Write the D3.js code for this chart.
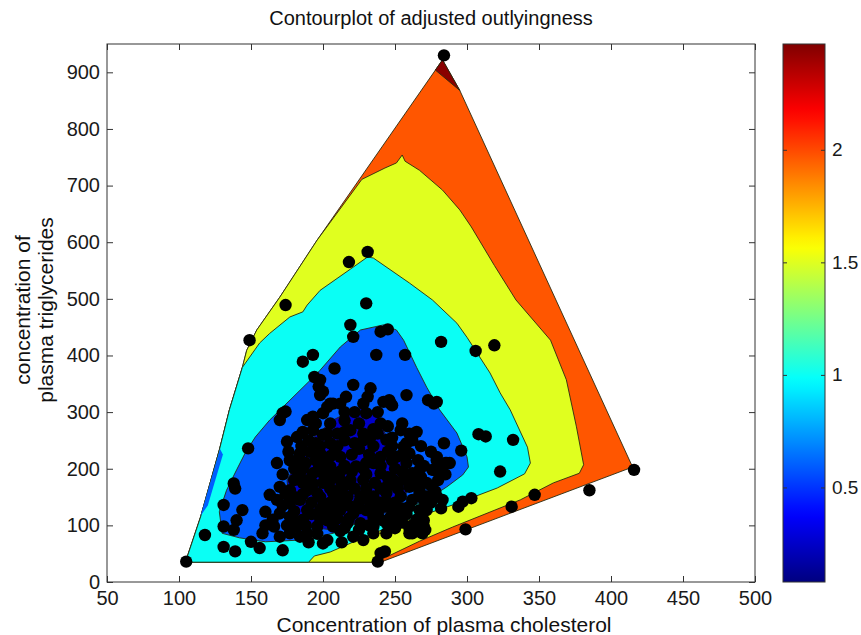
<!DOCTYPE html>
<html><head><meta charset="utf-8">
<script src="https://cdn.jsdelivr.net/npm/d3@7"></script>
<style>body{margin:0;background:#fff}svg{font-family:"Liberation Sans",Arial,sans-serif}</style>
</head><body><svg id="c" width="861" height="635"></svg>
<script>
// ---- data ----
const xTicks = [50,100,150,200,250,300,350,400,450,500];
const yTicks = [0,100,200,300,400,500,600,700,800,900];
const cbTicks = [0.5,1,1.5,2];
const cbRange = [0.08,2.47];
// filled contour regions (outer to inner) and their level values
const hullPoly = [[105,35],[240,35],[415,203],[295,868],[283,922],[196,604],[170,503],[154,445],[147,409],[144,379],[135,304],[128,233],[115,115],[105,39]];
const tipPoly = [[278,904],[283,922],[295,868]];
const yellowPoly = [[236,35],[238,39],[244,44],[267,72],[290,97],[337,145],[360,175],[378,192],[381,207],[376,274],[369,357],[358,427],[334,498],[319,559],[303,627],[295,657],[283,692],[267,727],[257,743],[255,754],[251,740],[243,731],[227,711],[196,604],[170,503],[154,445],[147,409],[144,379],[135,304],[128,233],[115,115],[105,39],[105,35]];
const cyanPoly = [[105,35],[190,35],[194,46],[205,53],[235,86],[253,104],[267,116],[290,136],[321,166],[340,191],[344,210],[342,238],[330,304],[323,334],[316,369],[300,432],[293,457],[276,498],[260,528],[235,572],[231,574],[221,556],[198,515],[189,489],[186,477],[177,468],[163,439],[156,422],[144,379],[135,304],[128,233],[115,115],[105,39]];
const bluePoly = [[130,86],[128,124],[133,162],[140,198],[146,228],[153,256],[163,286],[175,316],[191,356],[198,374],[212,415],[226,445],[242,454],[251,445],[256,427],[265,379],[272,344],[281,304],[293,263],[300,221],[301,203],[297,189],[286,168],[272,145],[253,125],[237,113],[221,101],[207,86],[184,74],[160,71],[142,78]];
const sliverPoly = [[128.5,235],[130.5,225],[120,135],[115,117]];
const darkPoly = [[175,180],[189,245],[207,286],[221,304],[230,309],[237,298],[242,268],[249,233],[258,203],[260,168],[253,132],[230,109],[207,92],[189,97],[177,132]];
const regions = [hullPoly, tipPoly, yellowPoly, cyanPoly, bluePoly, sliverPoly, darkPoly];
const regionLevels = [1.97, 2.45, 1.5, 1.0, 0.6, 0.6, 0.25];
// observations (cholesterol, triglycerides)
const obsX = [];
const obsY = [];
const points = [
[284,930],[416,198],[385,162],[347,154],[331,133],[299,93],[319,418],[306,408],[282,424],[308,261],[313,257],[332,251],[323,195],[294,133],[297,142],[303,148],[273,321],[279,318],[284,245],[296,232],[279,221],[285,210],[288,210],[276,198],[281,201],[267,156],[270,145],[271,127],[270,109],[271,92],[269,86],[240,51],[243,54],[238,36],[260,95],[267,89],[270,98],[262,86],
[149,427],[174,489],[231,583],[218,565],[230,492],[105,36],
[118,83],[131,62],[139,54],[131,98],[138,92],[140,109],[144,127],[131,136],[139,165],[138,174],[148,236],[150,71],[156,60],[172,56],[158,86],[163,154],[160,124],[168,210],[175,248],[170,286],[174,301],[182,256],[189,286],[193,292],[200,298],[186,265],[193,268],[177,215],[184,227],[191,230],[184,192],[193,192],[170,168],[177,162],[168,145],[177,139],[170,121],[177,115],[184,145],[189,127],[196,157],[198,127],[166,98],[170,80],[177,86],[182,98],[189,86],[196,98],[200,68],[203,109],[193,174],[200,192],[198,227],[189,162],
[203,309],[207,315],[203,262],[210,262],[219,268],[230,298],[233,256],[244,251],[254,268],[260,262],[265,265],[242,318],[247,315],[277,315],[256,239],[251,221],[240,221],[260,227],[258,210],[267,198],[279,215],[277,198],[286,210],[212,221],[205,204],[223,204],[219,180],[228,180],[240,192],[249,180],[256,192],[260,168],[267,162],[272,151],[279,151],[207,157],[217,151],[226,151],[235,151],[244,157],[254,151],[203,127],[212,127],[221,121],[230,127],[242,133],[251,121],[260,133],[267,127],[272,127],[207,98],[217,104],[226,104],[235,98],[244,104],[254,115],[203,74],[221,80],[228,74],[235,86],[244,86],[260,86],
[219,454],[221,433],[240,442],[245,446],[237,401],[257,401],[208,377],[198,357],[221,348],[233,342],[231,327],[216,327],[212,315],[246,321],[258,330],[200,336],[205,315],
[186,389],[193,401],[194,362],[197,345],[198,330],[248,312],[172,298],
[212,180],[230,165],[245,140],[215,140],[235,115],[250,200],[225,235],[235,240],[210,240],[245,230],[215,285],[225,280],[240,280],[188,210],[195,245],[180,180],
[205,245],[215,250],[228,250],[238,262],[248,240],[232,225],[220,225],[208,230],[230,210],[240,205],[248,215],[215,205],[200,210],[208,190],[230,190],[236,175],[245,170],[252,165],[222,165],[212,165],[200,175],[186,175],[180,150],[192,140],[205,140],[225,140],[235,135],[250,140],[262,145],[262,175],[268,185],[258,180],[198,112],[210,112],[218,112],[238,120],[247,115],[186,110],[180,125],[196,85],[212,90],[250,95],[255,105],[184,80],[190,70],[213,70],[165,110],[160,100],[175,100],[188,100],[200,260],[190,250],[185,240],[222,300],[215,300],[238,300],[228,315],[255,280],[262,250],[268,240],[275,230],[266,215],[272,175],[280,180],[285,190],[275,140],[282,130],[255,225],[245,275],[205,280],[195,280],
[172,190],[180,200],[176,230],[182,215],[195,215],[186,200],[172,135],[180,108],[192,120],[186,155],[198,150],[205,165],[210,150],[190,180],[174,155],[205,120],[215,95],[225,92],[232,100],[240,110],[250,110],[258,120],[265,110],[262,100],[255,130],[248,128],[240,140],[232,145],[225,130],[218,135],[210,135],[200,135],[220,195],[228,200],[235,210],[245,185],[252,175],[262,192],[270,205],[275,170],[278,160],[283,145],[265,172],[240,165],[230,155],[215,170],[205,180],[197,200],[212,195],[255,195],[248,255],[258,245],[235,270],[215,265],[228,262],[222,245],[205,222],[198,240]
];
points.forEach(p => { obsX.push(p[0]); obsY.push(p[1]); });

// ---- drawing ----
const svg = d3.select("#c");
const FONT = "'Liberation Sans',Arial,sans-serif";
const m = {l:107, r:755, t:44, b:582};
const x = d3.scaleLinear().domain([50,500]).range([m.l, m.r]);
const y = d3.scaleLinear().domain([0,950]).range([m.b, m.t]);
const jet = d3.scaleLinear()
  .domain([0,0.125,0.375,0.625,0.875,1].map(t => cbRange[0] + t*(cbRange[1]-cbRange[0])))
  .range(["#000080","#0000ff","#00ffff","#ffff00","#ff0000","#800000"])
  .clamp(true);

svg.append("defs").append("clipPath").attr("id","pc")
  .append("rect").attr("x",m.l).attr("y",m.t).attr("width",m.r-m.l).attr("height",m.b-m.t);

const line = d3.line().x(d => x(d[0])).y(d => y(d[1])).curve(d3.curveLinearClosed);
const g = svg.append("g").attr("clip-path","url(#pc)");
regions.forEach((poly,i) => {
  g.append("path").attr("d", line(poly))
    .attr("fill", jet(regionLevels[i]))
    .attr("stroke", i===5 ? "none" : "#2a2a10").attr("stroke-width", 0.9)
    .attr("stroke-linejoin","round");
});
g.selectAll("circle.pt").data(obsX.map((v,i)=>[v,obsY[i]])).enter().append("circle")
  .attr("class","pt").attr("cx", d => x(d[0])).attr("cy", d => y(d[1])).attr("r", 6.2).attr("fill","#000");

// axes box
const axCol = "#333";
svg.append("rect").attr("x",m.l).attr("y",m.t).attr("width",m.r-m.l).attr("height",m.b-m.t)
  .attr("fill","none").attr("stroke",axCol).attr("stroke-width",1);
const axB = svg.append("g").attr("transform",`translate(0,${m.b})`)
  .call(d3.axisBottom(x).tickValues(xTicks).tickSize(-6).tickPadding(9).tickFormat(d3.format("d")));
const axT = svg.append("g").attr("transform",`translate(0,${m.t})`)
  .call(d3.axisTop(x).tickValues(xTicks).tickSize(-6).tickFormat(""));
const axL = svg.append("g").attr("transform",`translate(${m.l},0)`)
  .call(d3.axisLeft(y).tickValues(yTicks).tickSize(-6).tickPadding(7).tickFormat(d3.format("d")));
const axR = svg.append("g").attr("transform",`translate(${m.r},0)`)
  .call(d3.axisRight(y).tickValues(yTicks).tickSize(-6).tickFormat(""));
[axB,axT,axL,axR].forEach(a => {
  a.select(".domain").remove();
  a.selectAll("line").attr("stroke",axCol);
  a.selectAll("text").attr("fill","#1a1a1a").style("font-size","20px").style("font-family",FONT);
});
axB.selectAll("text").attr("dy","0.71em");

// titles
svg.append("text").attr("x",(m.l+m.r)/2).attr("y",25).attr("text-anchor","middle")
  .style("font-size","20px").attr("fill","#111").text("Contourplot of adjusted outlyingness");
svg.append("text").attr("x",444).attr("y",632).attr("text-anchor","middle")
  .style("font-size","21px").attr("fill","#111").text("Concentration of plasma cholesterol");
const yl = svg.append("text").attr("transform","translate(34,310) rotate(-90)").attr("text-anchor","middle")
  .style("font-size","21px").attr("fill","#111");
yl.append("tspan").attr("x",0).attr("dy","-0.2em").text("concentration of");
yl.append("tspan").attr("x",0).attr("dy","1.1em").text("plasma triglycerides");

// colorbar
const cb = {l:783, r:825};
const cy = d3.scaleLinear().domain(cbRange).range([m.b, m.t]);
const grad = svg.select("defs").append("linearGradient").attr("id","jetg")
  .attr("x1",0).attr("y1",1).attr("x2",0).attr("y2",0);
d3.range(0,1.0001,0.02).forEach(t => {
  grad.append("stop").attr("offset",t).attr("stop-color", jet(cbRange[0]+t*(cbRange[1]-cbRange[0])));
});
svg.append("rect").attr("x",cb.l).attr("y",m.t).attr("width",cb.r-cb.l).attr("height",m.b-m.t)
  .attr("fill","url(#jetg)").attr("stroke",axCol).attr("stroke-width",1);
const cbR = svg.append("g").attr("transform",`translate(${cb.r},0)`)
  .call(d3.axisRight(cy).tickValues(cbTicks).tickSize(-4).tickPadding(7).tickFormat(d3.format("")));
const cbL = svg.append("g").attr("transform",`translate(${cb.l},0)`)
  .call(d3.axisLeft(cy).tickValues(cbTicks).tickSize(-4).tickFormat(""));
[cbR,cbL].forEach(a => {
  a.select(".domain").remove();
  a.selectAll("line").attr("stroke",axCol);
  a.selectAll("text").attr("fill","#1a1a1a").style("font-size","19px").style("font-family",FONT);
});
</script></body></html>
